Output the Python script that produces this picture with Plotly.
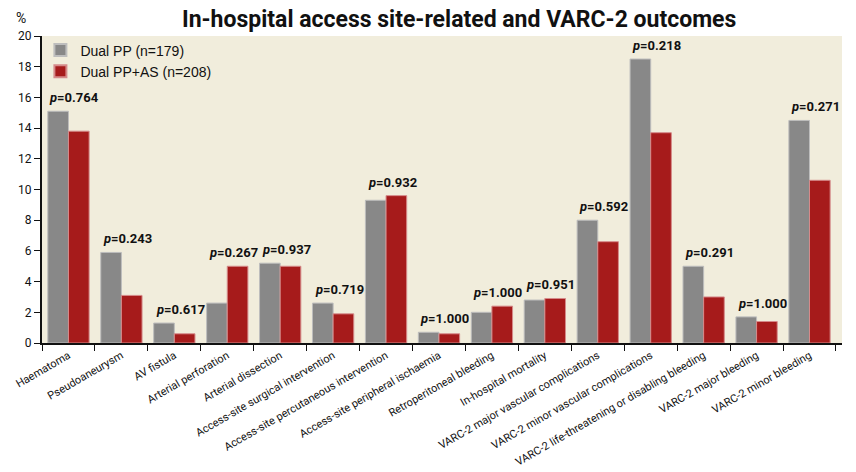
import plotly.graph_objects as go

categories = [
    "Haematoma", "Pseudoaneurysm", "AV fistula", "Arterial perforation",
    "Arterial dissection", "Access-site surgical intervention",
    "Access-site percutaneous intervention", "Access-site peripheral ischaemia",
    "Retroperitoneal bleeding", "In-hospital mortality",
    "VARC-2 major vascular complications", "VARC-2 minor vascular complications",
    "VARC-2 life-threatening or disabling bleeding", "VARC-2 major bleeding",
    "VARC-2 minor bleeding",
]
dual_pp = [15.1, 5.9, 1.3, 2.6, 5.2, 2.6, 9.3, 0.7, 2.0, 2.8, 8.0, 18.5, 5.0, 1.7, 14.5]
dual_pp_as = [13.8, 3.1, 0.6, 5.0, 5.0, 1.9, 9.6, 0.6, 2.4, 2.9, 6.6, 13.7, 3.0, 1.4, 10.6]
p_values = ["0.764", "0.243", "0.617", "0.267", "0.937", "0.719", "0.932", "1.000",
            "1.000", "0.951", "0.592", "0.218", "0.291", "1.000", "0.271"]
series_names = ["Dual PP (n=179)", "Dual PP+AS (n=208)"]

COND = "Roboto, Liberation Sans, sans-serif"

fig = go.Figure()
fig.add_trace(go.Bar(x=categories, y=dual_pp, name=series_names[0],
                     marker=dict(color="#888888", line=dict(color="#bdbdbd", width=1))))
fig.add_trace(go.Bar(x=categories, y=dual_pp_as, name=series_names[1],
                     marker=dict(color="#a61b1b", line=dict(color="#d58a8a", width=1))))

for c, a, b, p in zip(categories, dual_pp, dual_pp_as, p_values):
    fig.add_annotation(x=c, y=max(a, b), text="<i>p</i>=" + p, showarrow=False,
                       yanchor="bottom", yshift=4, xshift=6,
                       font=dict(family=COND, size=13, color="#111111", weight="bold"))

# page body adds an 8px offset; compensate so the plot area sits at x 42-842, y 36-343
fig.update_layout(
    width=848, height=464,
    margin=dict(l=34, r=14, t=28, b=129),
    paper_bgcolor="white", plot_bgcolor="#f1eddc",
    barmode="group", bargap=0.22, bargroupgap=0,
    title=dict(text="<b>In-hospital access site-related and VARC-2 outcomes</b>",
               x=0.532, xanchor="center", y=1.0, yanchor="top",
               pad=dict(t=3, b=0, l=0, r=0),
               font=dict(family=COND, size=23, color="#111111")),
    legend=dict(x=-0.002, y=1.005, xanchor="left", yanchor="top",
                bgcolor="rgba(0,0,0,0)", font=dict(family="Liberation Sans, Arial, sans-serif", size=14, color="#111111"),
                itemsizing="constant", tracegroupgap=0),
    showlegend=True,
    xaxis=dict(tickangle=-30, tickson="boundaries", ticks="outside", ticklen=6,
               tickcolor="#111111", showline=True, linecolor="#111111", linewidth=2,
               showgrid=False, automargin=False,
               tickfont=dict(family=COND, size=11, color="#111111")),
    yaxis=dict(range=[0, 20], dtick=2, ticks="outside", ticklen=6, tickcolor="#111111",
               showline=True, linecolor="#111111", linewidth=2, showgrid=False,
               zeroline=False, automargin=False,
               tickfont=dict(family=COND, size=12, color="#111111")),
)
fig.add_annotation(xref="paper", yref="paper", x=-0.035, y=1.0, yshift=8, text="%",
                   showarrow=False, yanchor="bottom", xanchor="left",
                   font=dict(family=COND, size=14, color="#111111"))

fig.write_html("out.html")
